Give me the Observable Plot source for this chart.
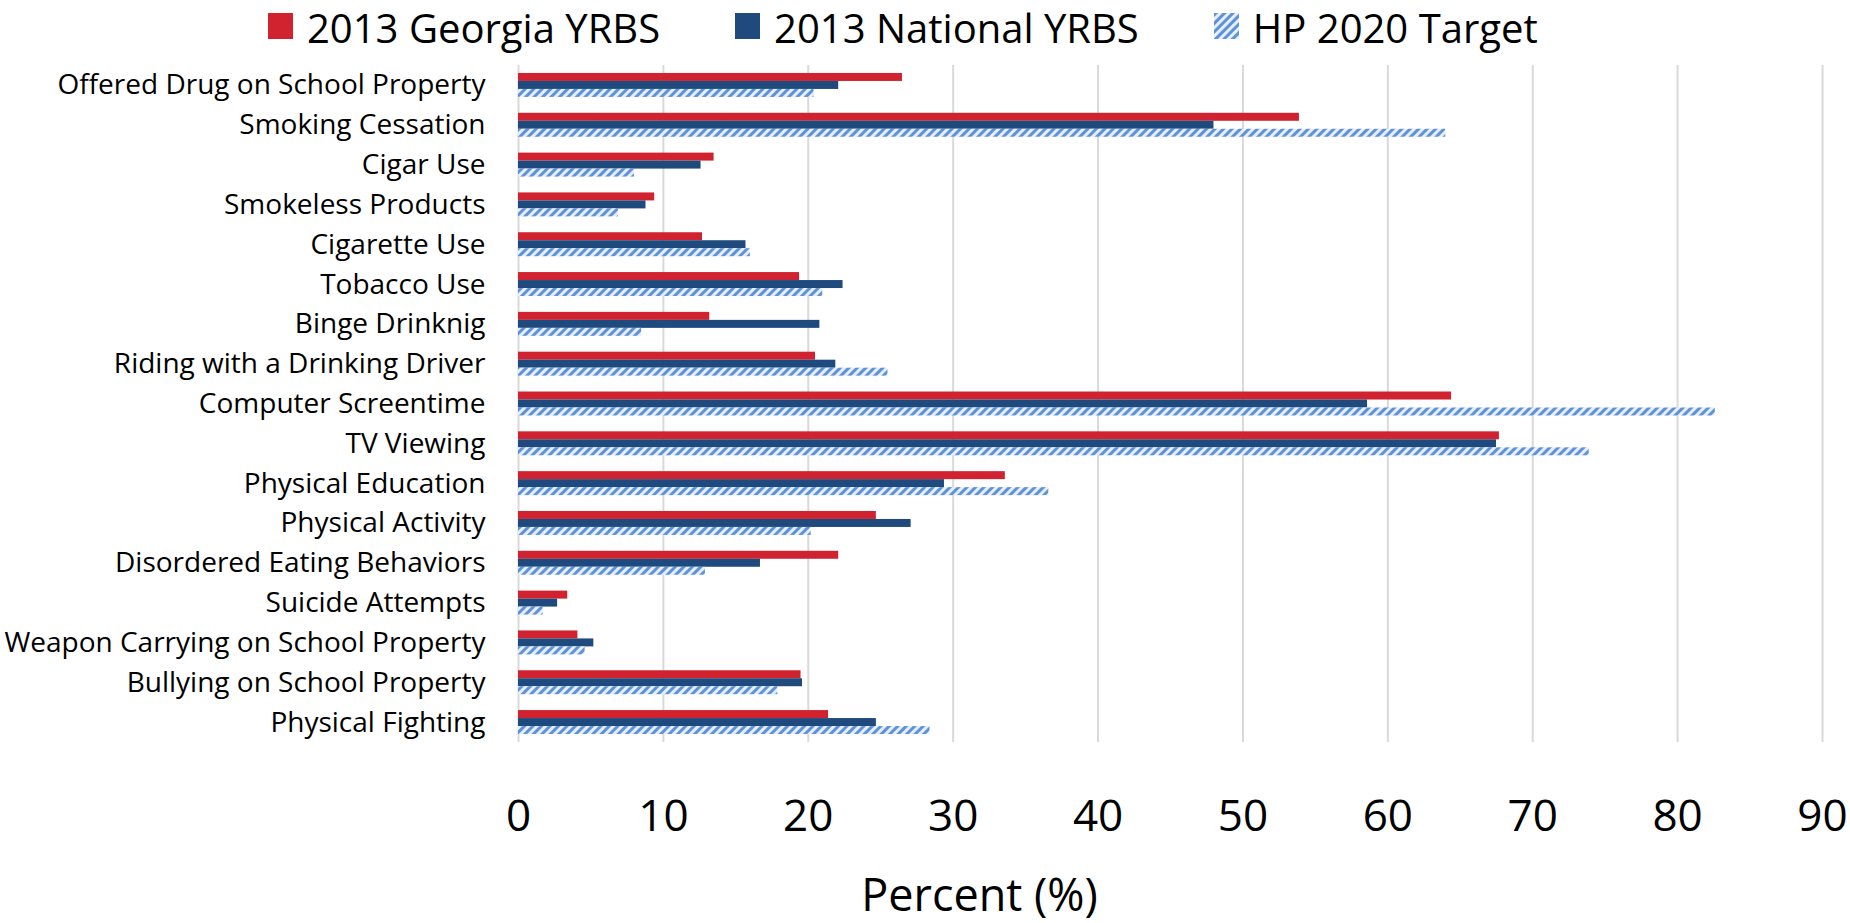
<!DOCTYPE html>
<html>
<head>
<meta charset="utf-8">
<script src="https://cdn.jsdelivr.net/npm/d3@7"></script>
<script src="https://cdn.jsdelivr.net/npm/@observablehq/plot@0.6"></script>
<style>
  html, body { margin: 0; padding: 0; background: #fff; }
  body { width: 1850px; height: 923px; overflow: hidden; font-family: "Open Sans", sans-serif; color: #000; }
  #legend { height: 52px; display: flex; align-items: center; padding-left: 268px; box-sizing: border-box; }
  .item { display: flex; align-items: center; margin-right: 75px; font-size: 40px; line-height: 48px; }
  .item span { position: relative; top: 2px; }
  .swatch { width: 25px; height: 26px; margin-right: 14px; }
  #chart svg { display: block; }
</style>
</head>
<body>
<div id="legend"></div>
<div id="chart"></div>
<script>
// Risk behaviours, top to bottom
const categories = [
  "Offered Drug on School Property",
  "Smoking Cessation",
  "Cigar Use",
  "Smokeless Products",
  "Cigarette Use",
  "Tobacco Use",
  "Binge Drinknig",
  "Riding with a Drinking Driver",
  "Computer Screentime",
  "TV Viewing",
  "Physical Education",
  "Physical Activity",
  "Disordered Eating Behaviors",
  "Suicide Attempts",
  "Weapon Carrying on School Property",
  "Bullying on School Property",
  "Physical Fighting"
];

const seriesNames = ["2013 Georgia YRBS", "2013 National YRBS", "HP 2020 Target"];

// Percent values, same order as categories
const georgia  = [26.5, 53.9, 13.5, 9.4, 12.7, 19.4, 13.2, 20.5, 64.4, 67.7, 33.6, 24.7, 22.1, 3.4, 4.1, 19.5, 21.4];
const national = [22.1, 48.0, 12.6, 8.8, 15.7, 22.4, 20.8, 21.9, 58.6, 67.5, 29.4, 27.1, 16.7, 2.7, 5.2, 19.6, 24.7];
const target   = [20.4, 64.0, 8.0, 6.9, 16.0, 21.0, 8.5, 25.5, 82.6, 73.9, 36.6, 20.2, 12.9, 1.7, 4.6, 17.9, 28.4];

const xTicks = [0, 10, 20, 30, 40, 50, 60, 70, 80, 90];

const RED = "#d0232f";
const NAVY = "#1f4a7e";
const HATCH = "#5e93db";

const rows = (values, series) => categories.map((c, i) => ({category: c, series, value: values[i]}));
const dGeorgia = rows(georgia, seriesNames[0]);
const dNational = rows(national, seriesNames[1]);
const dTarget = rows(target, seriesNames[2]);

// Layout
const width = 1850, height = 871;
const marginTop = 13, marginBottom = 181, marginLeft = 518, marginRight = 28;
const padInner = 0.398, padOuter = 0.2;
const step = (height - marginTop - marginBottom) / (categories.length - padInner + 2 * padOuter);
const third = step * (1 - padInner) / 3;

const chart = Plot.plot({
  width, height, marginTop, marginBottom, marginLeft, marginRight,
  style: {fontFamily: "Open Sans, sans-serif", color: "#000", background: "#fff"},
  x: {domain: [0, 90]},
  y: {domain: categories, paddingInner: padInner, paddingOuter: padOuter, round: false},
  marks: [
    Plot.gridX(xTicks, {stroke: "#d9d9d9", strokeOpacity: 1, strokeWidth: 2}),
    Plot.barX(dGeorgia, {y: "category", x: "value", fill: RED, insetBottom: 2 * third}),
    Plot.barX(dNational, {y: "category", x: "value", fill: NAVY, insetTop: third, insetBottom: third}),
    Plot.barX(dTarget, {y: "category", x: "value", fill: "url(#hp-hatch)", insetTop: 2 * third}),
    Plot.axisY({fontSize: 28, tickSize: 0, tickPadding: 33, label: null}),
    Plot.axisX({ticks: xTicks, fontSize: 44, tickSize: 0, tickPadding: 57, label: null}),
    Plot.text(["Percent (%)"], {frameAnchor: "bottom", dx: -191, dy: 154, fontSize: 45, lineAnchor: "middle", fill: "#000"})
  ]
});

// Diagonal hatch used for the HP 2020 target bars and its legend swatch
function addHatch(svg) {
  const defs = d3.select(svg).insert("defs", ":first-child");
  const p = defs.append("pattern")
    .attr("id", "hp-hatch")
    .attr("patternUnits", "userSpaceOnUse")
    .attr("width", 6).attr("height", 6)
    .attr("patternTransform", "rotate(45)");
  p.append("rect").attr("width", 6).attr("height", 6).attr("fill", "#e6eefa");
  p.append("rect").attr("width", 3).attr("height", 6).attr("fill", HATCH);
}
addHatch(chart);
document.getElementById("chart").appendChild(chart);

// Legend
const legend = d3.select("#legend");
const fills = [RED, NAVY, null];
seriesNames.forEach((name, i) => {
  const item = legend.append("div").attr("class", "item");
  if (fills[i]) {
    item.append("div").attr("class", "swatch").style("background", fills[i]);
  } else {
    const s = item.append("svg").attr("class", "swatch").attr("width", 25).attr("height", 26);
    s.append("rect").attr("width", 25).attr("height", 26).attr("fill", "url(#hp-hatch)");
  }
  item.append("span").text(name);
});
</script>
</body>
</html>
